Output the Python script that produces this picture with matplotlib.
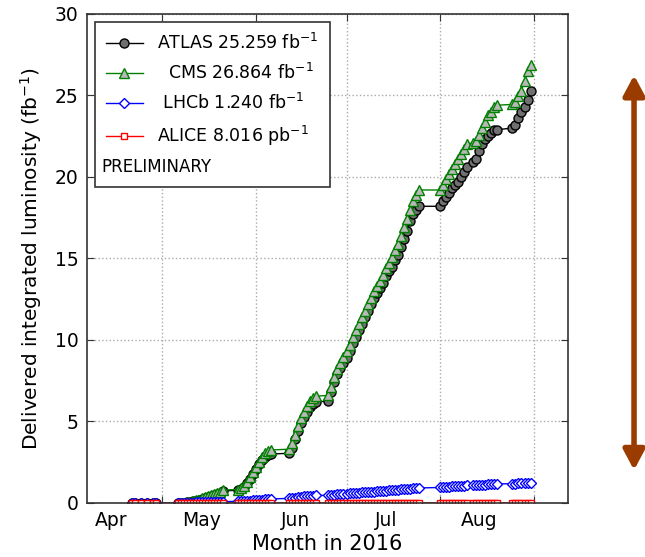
import pandas as pd
import matplotlib
matplotlib.use("Agg")
import matplotlib.pyplot as plt
import matplotlib.dates as mdates
from matplotlib.lines import Line2D
from matplotlib.patches import FancyArrowPatch

# days since 1 April 2016 of each fill (shared by the four experiments)
days = [20, 21, 23, 25, 27, 28,
        35, 36, 37, 38, 39, 40, 41, 42, 43, 44, 45, 46, 47, 48, 49, 50,
        55, 56, 57, 58, 59, 60, 61, 62, 63, 64, 65, 66,
        72, 73, 74, 75, 76, 77, 78, 79, 80, 81,
        85, 86, 87, 88, 89, 90, 91, 92, 93, 94, 95, 96, 97, 98, 99, 100,
        101, 102, 103, 104, 105, 106, 107, 108, 109, 110, 111, 112, 113, 114, 115,
        122, 123, 124, 125, 126, 127, 128, 129, 130, 131,
        133, 134, 135, 136, 137, 138, 139, 140, 141,
        146, 147, 148, 149, 150, 151, 152]

# fb^-1
atlas = [0, 0, 0, 0, 0, 0,
         0.0, 0.01, 0.02, 0.04, 0.06, 0.10, 0.14, 0.19, 0.25, 0.30, 0.35, 0.40, 0.46, 0.52, 0.62, 0.74,
         0.78, 0.86, 1.00, 1.22, 1.50, 1.78, 2.08, 2.38, 2.66, 2.85, 2.95, 3.00,
         3.05, 3.40, 3.90, 4.40, 4.90, 5.25, 5.60, 5.90, 6.10, 6.20,
         6.25, 6.80, 7.40, 7.90, 8.30, 8.60, 8.90, 9.30, 9.80, 10.20, 10.60, 11.00, 11.40, 11.80, 12.20, 12.60,
         12.90, 13.20, 13.50, 13.90, 14.20, 14.50, 14.90, 15.20, 15.70, 16.20, 16.70, 17.30, 17.70, 18.00, 18.20,
         18.20, 18.50, 18.80, 19.00, 19.30, 19.50, 19.70, 20.00, 20.30, 20.60,
         20.90, 21.10, 21.60, 22.00, 22.30, 22.50, 22.70, 22.85, 22.90,
         23.00, 23.20, 23.60, 24.00, 24.30, 24.70, 25.259]

cms = [0, 0, 0, 0, 0, 0,
       0.0, 0.01, 0.02, 0.04, 0.07, 0.11, 0.16, 0.21, 0.28, 0.34, 0.40, 0.46, 0.52, 0.60, 0.70, 0.80,
       0.82, 0.90, 1.05, 1.30, 1.60, 1.90, 2.20, 2.50, 2.80, 3.05, 3.20, 3.25,
       3.30, 3.70, 4.20, 4.70, 5.20, 5.60, 5.95, 6.25, 6.45, 6.55,
       6.60, 7.10, 7.70, 8.20, 8.60, 8.95, 9.30, 9.70, 10.20, 10.60, 11.00, 11.40, 11.80, 12.20, 12.60, 13.00,
       13.30, 13.60, 14.00, 14.40, 14.70, 15.10, 15.50, 15.90, 16.40, 16.90, 17.40, 18.00, 18.50, 18.90, 19.20,
       19.20, 19.50, 19.90, 20.20, 20.50, 20.80, 21.10, 21.40, 21.70, 22.00,
       22.10, 22.20, 22.60, 23.00, 23.40, 23.80, 24.00, 24.30, 24.40,
       24.45, 24.60, 24.95, 25.30, 25.90, 26.50, 26.864]

lhcb = [0, 0, 0, 0, 0, 0,
        0.00, 0.00, 0.01, 0.01, 0.02, 0.02, 0.03, 0.03, 0.04, 0.04, 0.05, 0.05, 0.06, 0.06, 0.07, 0.08,
        0.10, 0.11, 0.12, 0.13, 0.15, 0.16, 0.18, 0.19, 0.21, 0.22, 0.24, 0.25,
        0.28, 0.30, 0.32, 0.35, 0.38, 0.40, 0.42, 0.44, 0.45, 0.46,
        0.47, 0.49, 0.51, 0.53, 0.55, 0.57, 0.58, 0.60, 0.61, 0.62, 0.64, 0.65, 0.66, 0.68, 0.69, 0.70,
        0.72, 0.73, 0.74, 0.76, 0.77, 0.78, 0.80, 0.81, 0.83, 0.84, 0.86, 0.87, 0.89, 0.90, 0.92,
        0.95, 0.97, 0.99, 1.00, 1.02, 1.03, 1.05, 1.06, 1.07, 1.08,
        1.09, 1.10, 1.11, 1.12, 1.13, 1.14, 1.15, 1.16, 1.17,
        1.18, 1.19, 1.20, 1.21, 1.22, 1.23, 1.240]

# pb^-1
alice_pb = [0.00, 0.02, 0.05, 0.08, 0.10, 0.12,
            0.13, 0.15, 0.18, 0.20, 0.23, 0.26, 0.30, 0.33, 0.37, 0.40, 0.44, 0.48, 0.52, 0.56, 0.60, 0.64,
            0.70, 0.75, 0.80, 0.86, 0.92, 0.98, 1.05, 1.12, 1.19, 1.26, 1.33, 1.40,
            1.50, 1.58, 1.66, 1.74, 1.82, 1.90, 1.98, 2.06, 2.14, 2.22,
            2.35, 2.44, 2.56, 2.65, 2.74, 2.86, 2.95, 3.04, 3.16, 3.25, 3.33, 3.46, 3.55, 3.64, 3.76, 3.85,
            3.93, 4.06, 4.15, 4.24, 4.36, 4.45, 4.53, 4.66, 4.75, 4.84, 4.96, 5.05, 5.13, 5.26, 5.35,
            5.50, 5.60, 5.70, 5.85, 5.95, 6.05, 6.15, 6.30, 6.40, 6.50,
            6.60, 6.70, 6.85, 6.95, 7.05, 7.15, 7.30, 7.40, 7.50,
            7.55, 7.65, 7.75, 7.80, 7.90, 7.95, 8.016]

labels = ["ATLAS 25.259 fb$^{-1}$", "  CMS 26.864 fb$^{-1}$",
          " LHCb 1.240 fb$^{-1}$", "ALICE 8.016 pb$^{-1}$"]

start = pd.Timestamp("2016-04-01")
dates = (start + pd.to_timedelta(days, unit="D")).to_pydatetime()
alice = [v / 1000.0 for v in alice_pb]

fig = plt.figure(figsize=(6.45, 5.57), dpi=100)
ax = fig.add_axes([0.135, 0.097, 0.746, 0.878])

ax.plot(dates, atlas, "-o", color="black", mfc="#707070", mec="black", ms=6.5, mew=1, lw=1, label=labels[0])
ax.plot(dates, cms, "-^", color="green", mfc="#b8b8b8", mec="green", ms=7.5, mew=1, lw=1, label=labels[1])
ax.plot(dates, lhcb, "-D", color="blue", mfc="white", mec="blue", ms=5.5, mew=1, lw=1, label=labels[2])
ax.plot(dates, alice, "-s", color="red", mfc="white", mec="red", ms=5, mew=1, lw=1, label=labels[3])

ax.set_xlim(start + pd.Timedelta(days=5), start + pd.Timedelta(days=164.5))
ax.set_ylim(0, 30)
ax.set_yticks([0, 5, 10, 15, 20, 25, 30])

ax.xaxis.set_major_locator(mdates.MonthLocator())
ax.xaxis.set_major_formatter(plt.NullFormatter())
ax.xaxis.set_minor_locator(mdates.MonthLocator(bymonthday=14))
ax.xaxis.set_minor_formatter(mdates.DateFormatter("%b"))
ax.tick_params(which="major", direction="in", top=True, right=True, length=5, labelsize=13.5,
               color="#333333", pad=6)
ax.tick_params(which="minor", length=0, labelsize=13.5, pad=6)
ax.grid(True, which="major", linestyle=":", color="#aaaaaa", lw=1)
for s in ax.spines.values():
    s.set_color("#333333")
    s.set_linewidth(1.2)

ax.set_xlabel("Month in 2016", fontsize=15, labelpad=3)
ax.set_ylabel("Delivered integrated luminosity (fb$^{-1}$)", fontsize=14.5, labelpad=8)

handles, labs = ax.get_legend_handles_labels()
blank = Line2D([], [], linestyle="none")
leg = ax.legend(handles + [blank], labs + [" "], loc="upper left", numpoints=1, fontsize=12.5,
                handlelength=2.1, handletextpad=0.85, labelspacing=0.58, borderpad=0.65,
                borderaxespad=0.45, fancybox=False, framealpha=1, edgecolor="#333333")
leg.get_frame().set_linewidth(1.2)
ax.text(0.029, 0.687, "PRELIMINARY", transform=ax.transAxes, fontsize=12, va="center", zorder=10)

arrow = FancyArrowPatch((0.983, 0.156), (0.983, 0.865), transform=fig.transFigure,
                        arrowstyle="<|-|>,head_length=0.6,head_width=0.32", mutation_scale=20,
                        color="#9a3c00", lw=4, shrinkA=0, shrinkB=0)
fig.add_artist(arrow)

fig.savefig("out.png", dpi=100)
